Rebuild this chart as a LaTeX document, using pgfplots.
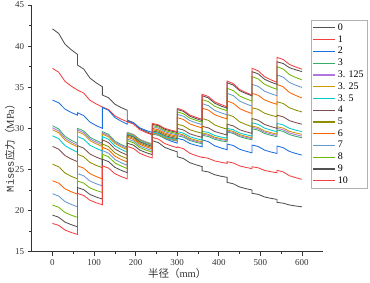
\documentclass[border=0pt]{standalone}
\usepackage{pgfplots}
\pgfplotsset{compat=1.18}
\usepackage{pgfplotstable}
\usepackage{fontspec}
\setmainfont{Liberation Serif}
\newfontfamily\cjk{Noto Sans CJK SC}
\newfontfamily\mono{Liberation Mono}
\definecolor{c0}{HTML}{515151}
\definecolor{c1}{HTML}{F14040}
\definecolor{c2}{HTML}{1A6FDF}
\definecolor{c3}{HTML}{37AD6B}
\definecolor{c4}{HTML}{B177DE}
\definecolor{c5}{HTML}{CC9900}
\definecolor{c6}{HTML}{00CBCC}
\definecolor{c7}{HTML}{7D4E4E}
\definecolor{c8}{HTML}{8E8E00}
\definecolor{c9}{HTML}{FB6501}
\definecolor{c10}{HTML}{6699CC}
\definecolor{c11}{HTML}{6FB802}
\pgfplotstableread{
x s0 s1 s2 s3 s3a s3b s3c s4 s5 s6 s7 s8 s9 s10
0 42.1 37.3 33.44 30.32 30.07 29.83 29.1 27.8 25.64 23.63 22.05 20.67 19.45 18.44
15 41.54 36.82 33.11 29.93 29.69 29.46 28.74 27.47 25.32 23.34 21.76 20.40 19.19 18.20
30 40.24 35.72 32.34 29.03 28.80 28.58 27.90 26.69 24.57 22.65 21.10 19.77 18.60 17.64
45 39.56 35.14 31.93 28.56 28.33 28.12 27.46 26.28 24.17 22.29 20.75 19.44 18.29 17.34
60 39.0 34.66 31.6 28.17 27.95 27.75 27.1 25.95 23.85 22.0 20.46 19.17 18.03 17.1
60 37.7 34.66 31.9 30.0 29.8 29.6 29.0 27.9 26.85 25.45 24.5 23.6 22.8 22.09
75 37.22 34.29 31.56 29.68 29.48 29.28 28.69 27.59 26.55 25.16 24.23 23.35 22.55 21.84
90 36.12 33.42 30.76 28.92 28.72 28.52 27.95 26.88 25.86 24.49 23.6 22.76 21.96 21.26
105 35.54 32.97 30.34 28.52 28.32 28.12 27.57 26.51 25.50 24.14 23.27 22.45 21.65 20.95
120 35.06 32.6 30.0 28.2 28.0 27.8 27.25 26.2 25.2 23.85 23.0 22.2 21.4 20.7
120 34.05 32.6 32.55 29.6 29.45 29.3 29.0 28.6 28.1 27.7 27.3 26.85 26.25 25.45
135 33.72 32.28 32.18 29.26 29.11 28.96 28.66 28.27 27.78 27.38 26.98 26.54 25.95 25.16
150 32.94 31.52 31.32 28.46 28.31 28.16 27.86 27.49 27.02 26.62 26.22 25.8 25.26 24.49
165 32.53 31.12 30.87 28.04 27.89 27.74 27.44 27.08 26.62 26.22 25.82 25.42 24.90 24.14
180 32.2 30.8 30.5 27.7 27.55 27.4 27.1 26.75 26.3 25.9 25.5 25.1 24.6 23.85
180 31.0 30.8 30.9 29.5 29.45 29.4 29.3 29.2 29.05 28.9 28.7 28.5 28.2 27.8
195 30.69 30.51 30.65 29.25 29.2 29.15 29.05 28.95 28.8 28.65 28.45 28.25 27.95 27.55
210 29.98 29.84 30.06 28.66 28.61 28.56 28.46 28.36 28.21 28.06 27.86 27.66 27.36 26.96
225 29.61 29.49 29.75 28.35 28.3 28.25 28.15 28.05 27.9 27.75 27.55 27.35 27.05 26.65
240 29.3 29.2 29.5 28.1 28.05 28.0 27.9 27.8 27.65 27.5 27.3 27.1 26.8 26.4
240 28.5 28.9 29.6 29.3 29.4 29.45 29.55 29.7 29.85 30.0 30.2 30.35 30.5 30.6
255 28.26 28.68 29.35 29.15 29.24 29.29 29.39 29.53 29.68 29.83 30.02 30.17 30.32 30.42
270 27.69 28.15 28.76 28.79 28.86 28.91 29.01 29.13 29.28 29.43 29.6 29.75 29.9 30.0
285 27.39 27.88 28.45 28.6 28.66 28.71 28.81 28.92 29.07 29.22 29.38 29.53 29.68 29.78
300 27.15 27.65 28.2 28.45 28.5 28.55 28.65 28.75 28.9 29.05 29.2 29.35 29.5 29.6
300 26.55 27.75 28.78 29.1 29.27 29.4 29.6 30.0 30.5 31.3 31.7 32.0 32.3 32.43
315 26.33 27.52 28.6 28.93 29.09 29.21 29.42 29.8 30.3 31.08 31.48 31.78 32.06 32.19
330 25.83 26.98 28.17 28.52 28.66 28.78 28.99 29.34 29.84 30.55 30.95 31.25 31.49 31.63
345 25.57 26.69 27.94 28.3 28.43 28.56 28.76 29.1 29.6 30.28 30.68 30.98 31.19 31.34
360 25.35 26.46 27.76 28.13 28.25 28.37 28.58 28.9 29.4 30.05 30.45 30.75 30.95 31.1
360 24.84 26.5 28.6 29.15 29.3 29.43 29.65 30.25 31.2 32.45 33.0 33.5 33.97 34.14
375 24.7 26.36 28.38 29.01 29.16 29.28 29.5 30.06 30.97 32.22 32.76 33.26 33.7 33.87
390 24.36 26.04 27.88 28.67 28.82 28.93 29.14 29.62 30.42 31.67 32.19 32.69 33.06 33.23
405 24.18 25.88 27.62 28.49 28.64 28.75 28.95 29.39 30.13 31.38 31.89 32.39 32.72 32.9
420 24.04 25.74 27.4 28.35 28.5 28.6 28.8 29.2 29.9 31.15 31.65 32.15 32.45 32.63
420 23.43 25.94 28.1 29.55 29.67 29.8 30.0 30.5 31.7 33.32 34.26 34.87 35.55 35.75
435 23.26 25.79 27.91 29.38 29.5 29.63 29.83 30.3 31.43 33.05 33.98 34.59 35.26 35.44
450 22.87 25.44 27.46 28.99 29.11 29.24 29.44 29.83 30.8 32.41 33.32 33.94 34.59 34.73
465 22.67 25.25 27.22 28.78 28.91 29.03 29.23 29.59 30.47 32.07 32.98 33.6 34.24 34.36
480 22.5 25.1 27.03 28.61 28.74 28.86 29.06 29.39 30.2 31.8 32.7 33.32 33.95 34.05
480 22.1 25.33 27.97 29.95 30.12 30.28 30.68 31.2 32.5 34.26 35.35 36.29 36.9 37.3
495 21.97 25.2 27.79 29.78 29.95 30.1 30.48 30.98 32.3 34.02 35.1 36.01 36.62 36.99
510 21.66 24.89 27.36 29.37 29.54 29.69 30.03 30.48 31.84 33.46 34.52 35.36 35.97 36.28
525 21.49 24.73 27.13 29.16 29.33 29.48 29.79 30.22 31.6 33.16 34.22 35.02 35.63 35.91
540 21.36 24.6 26.95 28.98 29.15 29.3 29.59 30.0 31.4 32.92 33.97 34.74 35.35 35.6
540 21.0 24.9 27.85 29.8 30.0 30.2 30.6 31.6 33.24 35.35 36.5 37.5 38.1 38.63
555 20.9 24.7 27.65 29.63 29.83 30.03 30.42 31.4 33.02 35.05 36.22 37.21 37.88 38.37
570 20.68 24.24 27.19 29.24 29.44 29.64 30.0 30.94 32.5 34.36 35.58 36.54 37.38 37.77
585 20.56 24.0 26.95 29.03 29.23 29.44 29.78 30.7 32.22 34.0 35.25 36.19 37.12 37.46
600 20.46 23.8 26.75 28.86 29.06 29.27 29.6 30.5 32.0 33.7 34.97 35.9 36.9 37.2
}\data
\begin{document}
\begin{tikzpicture}
\begin{axis}[name=ax, scale only axis, width=291pt, height=246.7pt,
  xmin=-50, xmax=650, ymin=15, ymax=45,
  axis x line*=bottom, axis y line*=left,
  xtick={0,100,...,600}, ytick={15,20,...,45},
  minor x tick num=1, minor y tick num=1,
  tick align=outside, major tick length=4pt, minor tick length=2.2pt,
  tick style={black!80, line width=0.6pt},
  axis line style={black!80, line width=0.7pt},
  ticklabel style={font=\fontsize{9}{10}\selectfont, color=black!80},
  /pgf/number format/assume math mode=true,
  xlabel={{\cjk 半径（}mm{\cjk ）}},
  ylabel={{\mono Mises}{\cjk 应力（}MPa{\cjk ）}},
  xlabel style={at={(rel axis cs:0.5,0)}, anchor=center, yshift=-22pt, font=\fontsize{10.5}{12}\selectfont, color=black!80},
  ylabel style={at={(rel axis cs:-0.075,0.43)}, anchor=center, font=\fontsize{10.5}{12}\selectfont, color=black!80},
  legend style={at={(rel axis cs:0.96,0.939)}, anchor=north west, draw=gray!60, line width=0.5pt,
    font=\fontsize{10}{11}\selectfont, row sep=-0.35pt, inner sep=1.5pt, cells={anchor=west}},
  legend image code/.code={\draw[#1, line width=1.1pt] (0pt,0pt) -- (22pt,0pt);},
  every axis plot/.append style={line width=0.85pt},
  legend entries={0,1,2,3,3. 125,3. 25,3. 5,4,5,6,7,8,9,10},
]
\addplot[c0] table[x=x,y=s0]{\data};
\addplot[c1] table[x=x,y=s1]{\data};
\addplot[c2] table[x=x,y=s2]{\data};
\addplot[c3] table[x=x,y=s3]{\data};
\addplot[c4] table[x=x,y=s3a]{\data};
\addplot[c5] table[x=x,y=s3b]{\data};
\addplot[c6] table[x=x,y=s3c]{\data};
\addplot[c7] table[x=x,y=s4]{\data};
\addplot[c8] table[x=x,y=s5]{\data};
\addplot[c9] table[x=x,y=s6]{\data};
\addplot[c10] table[x=x,y=s7]{\data};
\addplot[c11] table[x=x,y=s8]{\data};
\addplot[c0] table[x=x,y=s9]{\data};
\addplot[c1] table[x=x,y=s10]{\data};
\end{axis}
\pgfresetboundingbox
\path ([xshift=-31.7pt,yshift=-31.3pt]ax.south west) rectangle ([xshift=47.3pt,yshift=5pt]ax.north east);
\end{tikzpicture}
\end{document}
